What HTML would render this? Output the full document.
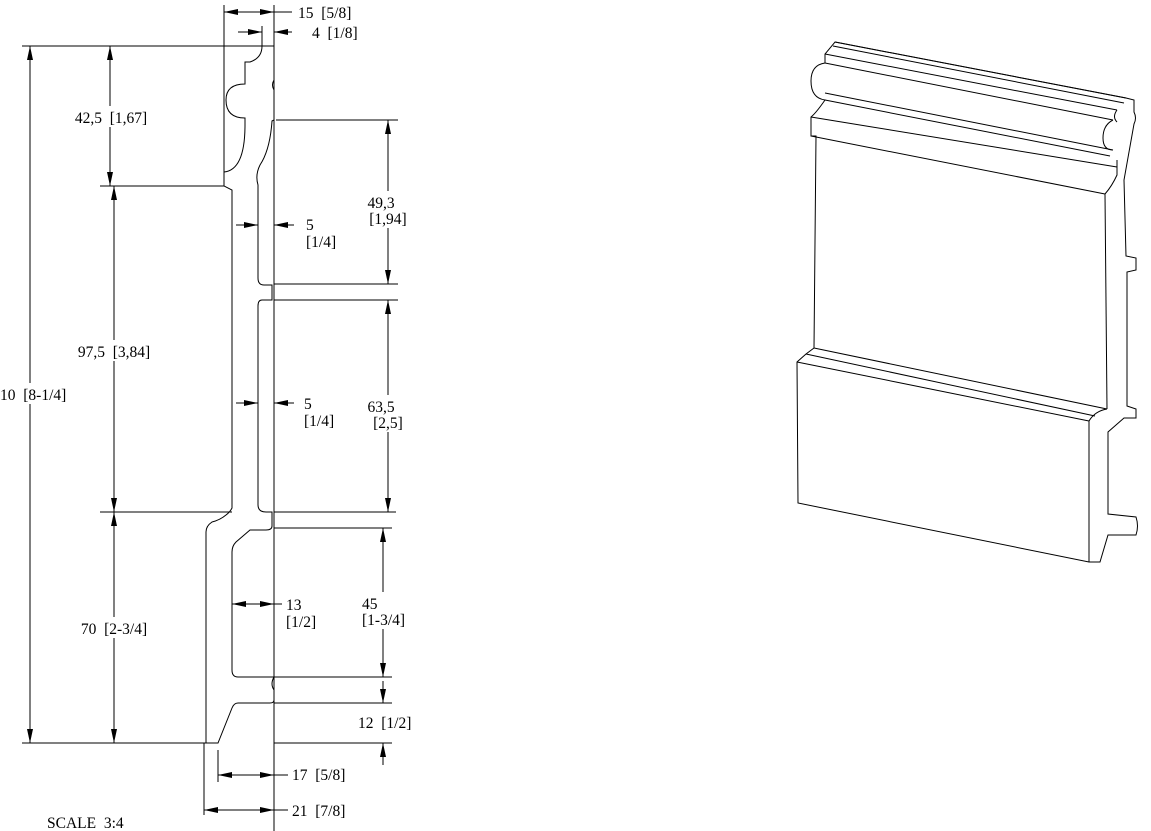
<!DOCTYPE html>
<html><head><meta charset="utf-8"><style>
html,body{margin:0;padding:0;background:#fff;}
svg{display:block;}
text{font-family:"Liberation Serif",serif;font-size:15.5px;fill:#000;white-space:pre;}
</style></head><body>
<svg width="1151" height="831" viewBox="0 0 1151 831" xmlns="http://www.w3.org/2000/svg" xml:space="preserve">
<defs>
<marker id="a" viewBox="0 0 14 6" refX="14" refY="3" markerWidth="14" markerHeight="6" markerUnits="userSpaceOnUse" orient="auto-start-reverse"><path d="M0,0L14,3L0,6z" fill="#000"/></marker>
</defs>
<g stroke="#000" stroke-width="1" fill="none">
<line x1="224" y1="5" x2="224" y2="186"/>
<line x1="274" y1="5" x2="274" y2="831"/>
<line x1="262" y1="26" x2="262" y2="46"/>
<line x1="22" y1="46" x2="262" y2="46"/>
<line x1="100" y1="186" x2="224" y2="186"/>
<line x1="100" y1="512" x2="232" y2="512"/>
<line x1="22" y1="743" x2="206" y2="743"/>
<line x1="274" y1="743" x2="392" y2="743"/>
<line x1="276" y1="120" x2="398" y2="120"/>
<line x1="274" y1="284" x2="398" y2="284"/>
<line x1="274" y1="300" x2="398" y2="300"/>
<line x1="274" y1="512" x2="396" y2="512"/>
<line x1="274" y1="528" x2="392" y2="528"/>
<line x1="274" y1="677" x2="392" y2="677"/>
<line x1="274" y1="703" x2="392" y2="703"/>
<line x1="258" y1="190" x2="258" y2="232"/>
<line x1="204" y1="743" x2="204" y2="815"/>
<line x1="218" y1="750" x2="218" y2="782"/>
<line x1="224" y1="12" x2="274" y2="12" marker-start="url(#a)" marker-end="url(#a)"/>
<line x1="274" y1="12" x2="292" y2="12"/>
<line x1="238" y1="32" x2="262" y2="32" marker-end="url(#a)"/>
<line x1="292" y1="32" x2="274" y2="32" marker-end="url(#a)"/>
<line x1="30" y1="383" x2="30" y2="46" marker-end="url(#a)"/>
<line x1="30" y1="404" x2="30" y2="743" marker-end="url(#a)"/>
<line x1="110" y1="106" x2="110" y2="46" marker-end="url(#a)"/>
<line x1="110" y1="127" x2="110" y2="186" marker-end="url(#a)"/>
<line x1="114" y1="340" x2="114" y2="186" marker-end="url(#a)"/>
<line x1="114" y1="361" x2="114" y2="512" marker-end="url(#a)"/>
<line x1="114" y1="617" x2="114" y2="512" marker-end="url(#a)"/>
<line x1="114" y1="638" x2="114" y2="743" marker-end="url(#a)"/>
<line x1="388" y1="191" x2="388" y2="120" marker-end="url(#a)"/>
<line x1="388" y1="228" x2="388" y2="284" marker-end="url(#a)"/>
<line x1="388" y1="395" x2="388" y2="300" marker-end="url(#a)"/>
<line x1="388" y1="432" x2="388" y2="512" marker-end="url(#a)"/>
<line x1="383" y1="592" x2="383" y2="528" marker-end="url(#a)"/>
<line x1="383" y1="629" x2="383" y2="677" marker-end="url(#a)"/>
<line x1="383" y1="681" x2="383" y2="703" marker-end="url(#a)"/>
<line x1="383" y1="765" x2="383" y2="743" marker-end="url(#a)"/>
<line x1="236" y1="225" x2="258" y2="225" marker-end="url(#a)"/>
<line x1="294" y1="225" x2="274" y2="225" marker-end="url(#a)"/>
<line x1="236" y1="403" x2="258" y2="403" marker-end="url(#a)"/>
<line x1="294" y1="403" x2="274" y2="403" marker-end="url(#a)"/>
<line x1="232" y1="604" x2="274" y2="604" marker-start="url(#a)" marker-end="url(#a)"/>
<line x1="274" y1="604" x2="282" y2="604"/>
<line x1="218" y1="775" x2="274" y2="775" marker-start="url(#a)" marker-end="url(#a)"/>
<line x1="274" y1="775" x2="288" y2="775"/>
<line x1="204" y1="810" x2="274" y2="810" marker-start="url(#a)" marker-end="url(#a)"/>
<line x1="274" y1="810" x2="288" y2="810"/>
<path d="M262,46 L274,46 L274,80 Q271,85 274,90 L274,120 L272,121 Q270,150 260,165 Q255,175 258,185 L258,278 Q258,285 264,285 L272,285 L272,300 L262,300 Q258,300 258,306 L258,505 Q258,512 266,512 L272,512 L272,526 Q272,530 266,530 L250,530 L236,542 Q232,546 232,552 L232,670 Q232,677 238,677 L274,677 Q270,684 274,690 L274,700 Q274,703 270,703 L238,703 Q234,703 232,708 L218,743 L206,743 L206,532 Q206,526 212,522 Q220,520 226,515 Q230,512 232,508 L232,190 L224,186 L224,172 Q245,170 245,125 L245,118 Q226,118 226,100 Q226,84 245,84 L245,62 L250,62 Q262,58 262,46 Z"/>
<path d="M835,42 L1126,98 L1134,100 L1134,112 Q1137,118 1134,124 L1124,180 L1126,256 L1136,258 L1136,270 L1127,272 L1127,406 L1136,409 L1136,418 L1124,418 L1108,432 L1108,514 L1136,517 Q1139,526 1136,535 L1108,535 L1100,562 L1089,562 L798,503 L797,362 L806,354 L814,348 L816,136 L811,136 L811,117 Q816,113 825,100 Q811,98 811,81 Q811,65 825,63 L825,54 L835,42 Z"/>
<line x1="835" y1="42" x2="1126" y2="98"/>
<line x1="833" y1="46" x2="1124" y2="103"/>
<line x1="825" y1="54" x2="1117" y2="110"/>
<line x1="825" y1="63" x2="1113" y2="120"/>
<line x1="825" y1="93" x2="1113" y2="150"/>
<line x1="825" y1="100" x2="1110" y2="156"/>
<line x1="811" y1="117" x2="1117" y2="167"/>
<line x1="811" y1="136" x2="1105" y2="194"/>
<path d="M1113,120 Q1103,125 1103,138 Q1103,150 1113,150 M1117,110 Q1112,117 1117,122 M1117,160 L1117,175 Q1112,186 1105,194"/>
<line x1="1105" y1="194" x2="1107" y2="409"/>
<line x1="814" y1="348" x2="1107" y2="409"/>
<line x1="806" y1="354" x2="1095" y2="416"/>
<line x1="797" y1="362" x2="1089" y2="421"/>
<path d="M1107,409 Q1095,411 1089,421"/>
<line x1="1089" y1="421" x2="1089" y2="562"/>
</g>
<text x="298" y="18">15  [5/8]</text>
<text x="312" y="38">4  [1/8]</text>
<text x="111" y="123" text-anchor="middle">42,5  [1,67]</text>
<text x="114" y="357" text-anchor="middle">97,5  [3,84]</text>
<text x="0" y="400">10  [8-1/4]</text>
<text x="114" y="634" text-anchor="middle">70  [2-3/4]</text>
<text x="381" y="208" text-anchor="middle">49,3</text>
<text x="388" y="224" text-anchor="middle">[1,94]</text>
<text x="306" y="230">5</text>
<text x="306" y="247">[1/4]</text>
<text x="304" y="409">5</text>
<text x="304" y="426">[1/4]</text>
<text x="381" y="412" text-anchor="middle">63,5</text>
<text x="388" y="428" text-anchor="middle">[2,5]</text>
<text x="362" y="609">45</text>
<text x="362" y="625">[1-3/4]</text>
<text x="286" y="610">13</text>
<text x="286" y="627">[1/2]</text>
<text x="358" y="728">12  [1/2]</text>
<text x="292" y="780">17  [5/8]</text>
<text x="292" y="816">21  [7/8]</text>
<text x="47" y="828">SCALE  3:4</text>
</svg>
</body></html>
